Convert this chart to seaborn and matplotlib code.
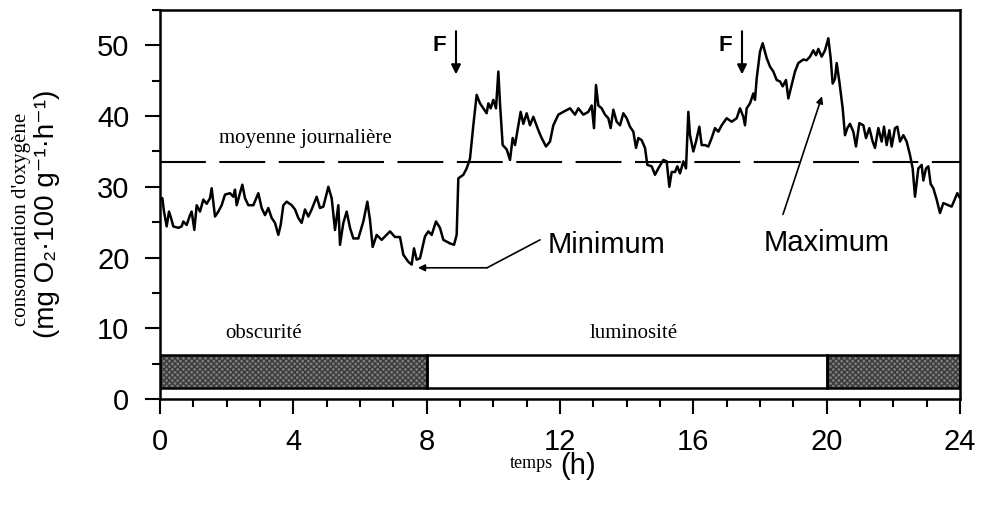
import numpy as np
import pandas as pd
import matplotlib
matplotlib.use("Agg")
import matplotlib.pyplot as plt
from matplotlib.ticker import MultipleLocator
import seaborn as sns

# ---------------- data ----------------
hours = [0.0, 0.07, 0.12, 0.2, 0.27, 0.33, 0.4, 0.55, 0.65, 0.7, 0.8, 0.9, 0.95, 1.03, 1.1, 1.2, 1.3, 1.4,
         1.5, 1.55, 1.65, 1.75, 1.85, 1.95, 2.1, 2.2, 2.25, 2.3, 2.4, 2.47, 2.55, 2.65, 2.8, 2.95, 3.05,
         3.15, 3.25, 3.35, 3.45, 3.55, 3.62, 3.7, 3.8, 3.95, 4.05, 4.15, 4.25, 4.35, 4.45, 4.55, 4.7, 4.8,
         4.9, 5.05, 5.15, 5.25, 5.35, 5.4, 5.5, 5.6, 5.7, 5.8, 5.95, 6.1, 6.22, 6.3, 6.38, 6.5, 6.65, 6.9,
         7.05, 7.2, 7.3, 7.45, 7.55, 7.62, 7.7, 7.8, 7.95, 8.05, 8.15, 8.28, 8.4, 8.5, 8.7, 8.82, 8.9,
         8.95, 9.1, 9.2, 9.3, 9.4, 9.5, 9.6, 9.7, 9.8, 9.85, 9.92, 10.0, 10.08, 10.15, 10.2, 10.28, 10.4,
         10.5, 10.58, 10.65, 10.75, 10.82, 10.9, 11.0, 11.1, 11.2, 11.35, 11.45, 11.58, 11.7, 11.8, 11.95,
         12.1, 12.3, 12.45, 12.55, 12.7, 12.85, 12.95, 13.02, 13.08, 13.15, 13.25, 13.35, 13.45, 13.52,
         13.6, 13.7, 13.8, 13.9, 14.0, 14.1, 14.2, 14.28, 14.35, 14.45, 14.55, 14.62, 14.75, 14.85, 14.95,
         15.1, 15.2, 15.28, 15.35, 15.45, 15.52, 15.6, 15.7, 15.78, 15.85, 15.9, 16.0, 16.08, 16.18, 16.25,
         16.35, 16.45, 16.55, 16.65, 16.75, 16.85, 17.0, 17.15, 17.3, 17.4, 17.5, 17.55, 17.6, 17.7, 17.8,
         17.85, 17.9, 18.0, 18.08, 18.2, 18.3, 18.4, 18.5, 18.6, 18.68, 18.78, 18.85, 18.95, 19.05, 19.15,
         19.3, 19.4, 19.5, 19.6, 19.68, 19.75, 19.85, 19.95, 20.05, 20.12, 20.18, 20.25, 20.3, 20.38,
         20.48, 20.55, 20.62, 20.7, 20.8, 20.88, 20.98, 21.1, 21.18, 21.28, 21.38, 21.45, 21.55, 21.65,
         21.72, 21.8, 21.88, 21.95, 22.05, 22.12, 22.2, 22.3, 22.4, 22.5, 22.58, 22.65, 22.75, 22.85,
         22.9, 22.98, 23.05, 23.12, 23.2, 23.3, 23.4, 23.5, 23.65, 23.75, 23.92, 24.0]

consumption = [28.0, 28.4, 26.5, 24.4, 26.5, 25.6, 24.4, 24.2, 24.4, 25.1, 24.6, 26.0, 26.5, 23.9, 27.4, 26.5,
               28.2, 27.6, 28.4, 29.8, 25.8, 26.5, 27.4, 28.9, 29.1, 28.6, 29.6, 27.4, 29.1, 30.3, 28.4,
               27.4, 27.4, 29.1, 27.0, 26.0, 27.0, 25.6, 24.9, 23.2, 24.6, 27.4, 27.9, 27.4, 26.8, 25.6,
               24.9, 26.8, 25.8, 26.8, 28.6, 27.0, 27.2, 30.0, 28.4, 23.9, 27.4, 21.8, 24.9, 26.5, 24.2,
               22.7, 22.7, 25.1, 27.9, 25.3, 21.5, 23.2, 22.5, 23.7, 22.9, 22.9, 20.4, 19.4, 19.0, 21.3,
               19.7, 19.9, 23.0, 23.7, 23.2, 25.1, 24.2, 22.5, 22.0, 21.8, 23.2, 31.2, 31.7, 32.6, 34.0,
               38.7, 43.0, 41.8, 41.1, 40.4, 41.8, 41.1, 42.3, 41.1, 46.3, 41.8, 35.9, 35.3, 33.8, 36.9,
               35.9, 38.7, 40.6, 38.9, 40.4, 38.7, 39.9, 38.0, 36.9, 35.7, 36.4, 38.7, 40.2, 40.6, 41.1,
               40.2, 41.1, 40.2, 40.6, 41.5, 38.3, 44.4, 41.5, 41.1, 40.2, 39.7, 38.3, 40.9, 39.2, 38.7,
               40.4, 39.7, 38.5, 37.8, 35.5, 36.9, 36.6, 35.5, 33.1, 32.9, 31.7, 32.6, 33.8, 33.6, 30.0,
               32.1, 32.1, 32.9, 31.9, 33.6, 32.6, 40.6, 37.3, 35.0, 36.4, 38.5, 35.9, 35.9, 35.7, 36.9,
               38.3, 37.8, 38.7, 39.7, 39.2, 39.7, 41.1, 39.9, 38.7, 41.1, 41.8, 43.2, 42.3, 45.3, 49.1,
               50.3, 48.2, 47.0, 46.3, 45.1, 44.9, 44.2, 45.1, 42.5, 44.4, 46.3, 47.5, 48.0, 47.9, 48.4,
               49.3, 48.6, 49.5, 48.4, 49.3, 51.0, 48.2, 44.6, 45.3, 47.5, 44.9, 41.1, 37.3, 38.3, 38.9,
               37.8, 35.7, 39.0, 38.7, 36.9, 38.3, 36.4, 35.5, 38.3, 36.4, 38.5, 35.9, 38.0, 35.7, 38.3,
               38.5, 36.4, 37.3, 36.4, 34.5, 32.6, 28.6, 32.6, 33.1, 30.9, 32.6, 32.9, 30.4, 29.8, 28.2,
               26.3, 27.7, 27.4, 27.2, 29.1, 28.4]

daily_mean = 33.5
period_starts = [0, 8, 20]
period_ends = [8, 20, 24]
period_dark = [True, False, True]
period_labels = ["obscurité", "luminosité"]
feeding_times = [8.88, 17.46]
x_ticks = [0, 4, 8, 12, 16, 20, 24]
y_ticks = [0, 10, 20, 30, 40, 50]

df = pd.DataFrame({"temps": hours, "conso": consumption})

# ---------------- style ----------------
sns.set_style("white")
SANS = ["Liberation Sans", "DejaVu Sans"]
SERIF = ["Liberation Serif", "DejaVu Serif"]
plt.rcParams["font.family"] = SANS
plt.rcParams["text.color"] = "black"
plt.rcParams["axes.labelcolor"] = "black"
plt.rcParams["xtick.color"] = "black"
plt.rcParams["ytick.color"] = "black"

fig = plt.figure(figsize=(9.81, 5.05), dpi=100)
ax = fig.add_axes([160 / 981, 1 - 399 / 505, 800 / 981, 389 / 505])

sns.lineplot(data=df, x="temps", y="conso", ax=ax, color="black", lw=1.8, sort=False)

# daily mean
ax.axhline(daily_mean, color="black", lw=1.5, dashes=(22, 6.5))
ax.text(4.35, 36.8, "moyenne journalière", family=SERIF, fontsize=15,
        ha="center", va="center")

# light/dark bar
bar_bottom, bar_top = 1.6, 6.2
for s, e, dark in zip(period_starts, period_ends, period_dark):
    if dark:
        ax.barh(y=(bar_bottom + bar_top) / 2, width=e - s, left=s, height=bar_top - bar_bottom,
                color="#7c7c7c", hatch="xxxxxx", edgecolor="#3a3a3a", lw=0, zorder=2)
    ax.barh(y=(bar_bottom + bar_top) / 2, width=e - s, left=s, height=bar_top - bar_bottom,
            fill=False, edgecolor="black", lw=1.8, zorder=3)
ax.text(3.1, 9.2, period_labels[0], family=SERIF, fontsize=15, ha="center", va="center")
ax.text(14.2, 9.2, period_labels[1], family=SERIF, fontsize=15, ha="center", va="center")

# feeding arrows
for ft in feeding_times:
    ax.annotate("", xy=(ft, 45.9), xytext=(ft, 52.0),
                arrowprops=dict(arrowstyle="-|>", color="black", lw=1.5, mutation_scale=14,
                                shrinkA=0, shrinkB=0))
    ax.text(ft - 0.5, 50.0, "F", fontsize=16, fontweight="bold", ha="center", va="center")

# Minimum annotation
ax.plot([11.4, 9.81], [22.5, 18.55], color="black", lw=1.2)
ax.annotate("", xy=(7.74, 18.55), xytext=(9.81, 18.55),
            arrowprops=dict(arrowstyle="-|>", color="black", lw=1.2, mutation_scale=10,
                            shrinkA=0, shrinkB=0))
ax.text(11.64, 21.8, "Minimum", fontsize=21, ha="left", va="center")

# Maximum annotation
ax.annotate("", xy=(19.86, 42.8), xytext=(18.69, 26.1),
            arrowprops=dict(arrowstyle="-|>", color="black", lw=1.2, mutation_scale=10,
                            shrinkA=0, shrinkB=0))
ax.text(20.0, 22.1, "Maximum", fontsize=21, ha="center", va="center")

# axes
ax.set_xlim(0, 24)
ax.set_ylim(0, 55)
ax.set_xticks(x_ticks)
ax.set_yticks(y_ticks)
ax.xaxis.set_minor_locator(MultipleLocator(1))
ax.yaxis.set_minor_locator(MultipleLocator(5))
ax.tick_params(axis="both", which="both", bottom=True, left=True, top=False, right=False)
ax.tick_params(axis="both", which="major", direction="out", length=11, width=1.5,
               labelsize=21, color="black", labelcolor="black", pad=11)
ax.tick_params(axis="both", which="minor", direction="out", length=6, width=1.5, color="black")
ax.tick_params(axis="x", which="major", pad=10)
ax.set_xlabel("")
ax.set_ylabel("")
for sp in ax.spines.values():
    sp.set_visible(True)
    sp.set_color("black")
    sp.set_linewidth(1.8)

# axis labels
fig.text(531 / 981, 1 - 463 / 505, "temps", family=SERIF, fontsize=13, ha="center", va="center")
fig.text(578 / 981, 1 - 466 / 505, "(h)", fontsize=21, ha="center", va="center")
fig.text(22 / 981, 1 - 219 / 505, "consommation d'oxygène", family=SERIF, fontsize=15,
         rotation=90, ha="center", va="center")
fig.text(47 / 981, 1 - 214 / 505, "(mg O₂·100 g⁻¹·h⁻¹)", family=SANS, fontsize=20,
         rotation=90, ha="center", va="center")

fig.savefig("out.png", dpi=100)
